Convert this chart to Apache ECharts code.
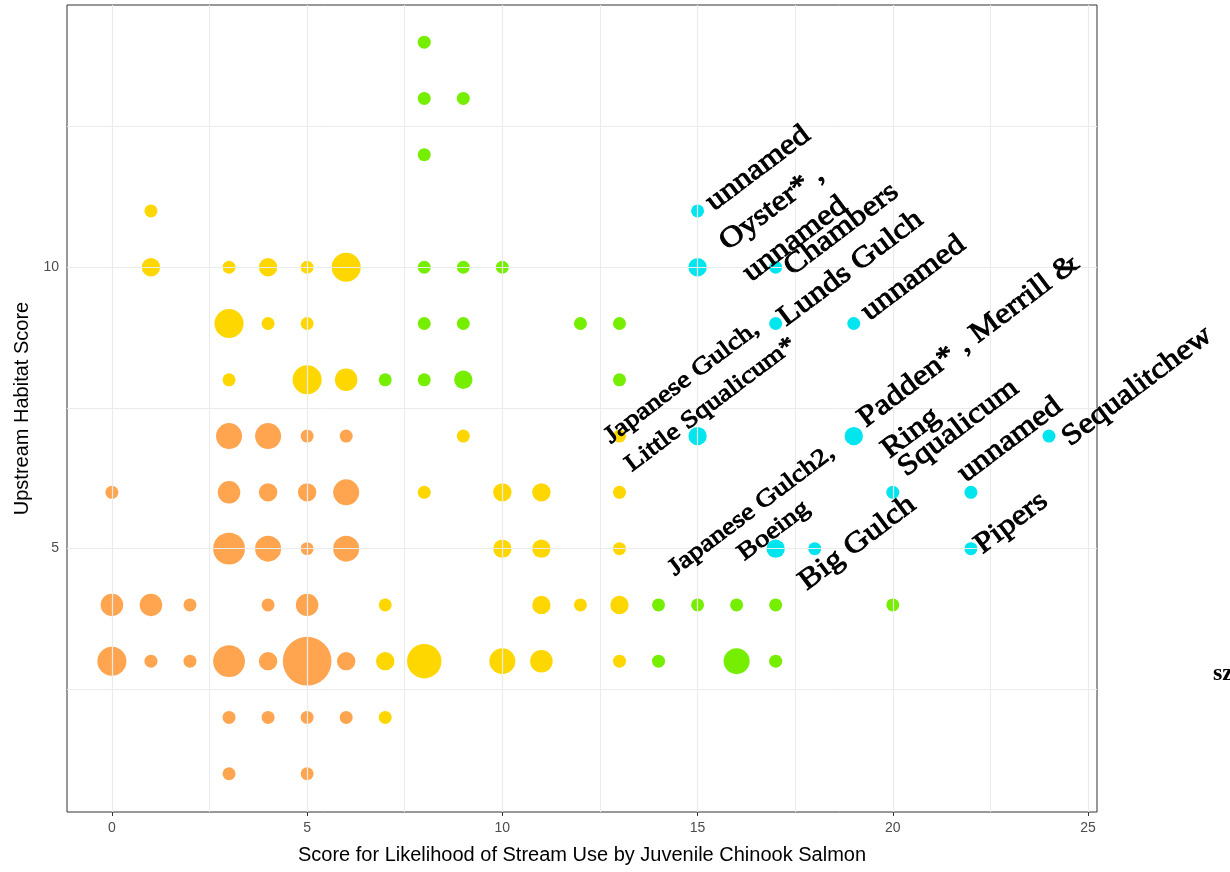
<!DOCTYPE html>
<html>
<head>
<meta charset="utf-8">
<title>Juvenile Chinook stream scores</title>
<script src="https://cdn.jsdelivr.net/npm/echarts@6/dist/echarts.min.js"></script>
<style>
  html, body { margin: 0; padding: 0; background: #ffffff; }
  #chart { width: 1230px; height: 872px; }
</style>
</head>
<body>
<div id="chart"></div>
<script>
// Streams scored on likelihood of use (x) and upstream habitat (y); n = streams sharing that score
const tierLow = [
  [0, 6, 1], [0, 4, 3], [0, 3, 5],
  [1, 4, 3], [1, 3, 1],
  [2, 4, 1], [2, 3, 1],
  [3, 7, 4], [3, 6, 3], [3, 5, 6], [3, 3, 6], [3, 2, 1], [3, 1, 1],
  [4, 7, 4], [4, 6, 2], [4, 5, 4], [4, 4, 1], [4, 3, 2], [4, 2, 1],
  [5, 7, 1], [5, 6, 2], [5, 5, 1], [5, 4, 3], [5, 3, 14], [5, 2, 1], [5, 1, 1],
  [6, 7, 1], [6, 6, 4], [6, 5, 4], [6, 3, 2], [6, 2, 1]
];
const tierMid = [
  [1, 11, 1], [1, 10, 2],
  [3, 10, 1], [3, 9, 5], [3, 8, 1],
  [4, 10, 2], [4, 9, 1],
  [5, 10, 1], [5, 9, 1], [5, 8, 5],
  [6, 10, 5], [6, 8, 3],
  [7, 4, 1], [7, 3, 2], [7, 2, 1],
  [8, 6, 1], [8, 3, 7],
  [9, 7, 1],
  [10, 6, 2], [10, 5, 2], [10, 3, 4],
  [11, 6, 2], [11, 5, 2], [11, 4, 2], [11, 3, 3],
  [12, 4, 1],
  [13, 7, 1], [13, 6, 1], [13, 5, 1], [13, 4, 2], [13, 3, 1]
];
const tierHigh = [
  [8, 14, 1], [8, 13, 1], [8, 12, 1], [8, 10, 1], [8, 9, 1], [8, 8, 1],
  [9, 13, 1], [9, 10, 1], [9, 9, 1], [9, 8, 2],
  [10, 10, 1],
  [7, 8, 1],
  [12, 9, 1],
  [13, 9, 1], [13, 8, 1],
  [14, 4, 1], [14, 3, 1],
  [15, 4, 1], [16, 4, 1], [16, 3, 4],
  [17, 4, 1], [17, 3, 1],
  [20, 4, 1]
];
const tierTop = [
  [15, 11, 1], [15, 10, 2], [15, 7, 2],
  [17, 10, 1], [17, 9, 1], [17, 5, 2],
  [18, 5, 1],
  [19, 9, 1], [19, 7, 2],
  [20, 6, 1],
  [22, 6, 1], [22, 5, 1],
  [24, 7, 1]
];

// Stream names, placed in data units at the left-middle of each text block
const siteNames = [
  [15.30, 11.10, 'unnamed'],
  [15.95, 10.12, 'Oyster* ,\nunnamed'],
  [17.30, 9.95, 'Chambers'],
  [17.15, 9.05, 'Lunds Gulch'],
  [19.28, 9.15, 'unnamed'],
  [19.50, 6.98, 'Padden* , Merrill &\nRing'],
  [20.22, 6.38, 'Squalicum'],
  [21.75, 6.28, 'unnamed'],
  [24.42, 6.92, 'Sequalitchew'],
  [22.18, 5.01, 'Pipers'],
  [17.68, 4.36, 'Big Gulch']
];
const siteNamesMinor = [
  [12.95, 6.70, 'Japanese Gulch,\nLittle Squalicum*'],
  [14.32, 4.60, 'Japanese Gulch2,'],
  [16.10, 4.87, 'Boeing']
];

const xTicks = [0, 5, 10, 15, 20, 25];
const xMinor = [2.5, 7.5, 12.5, 17.5, 22.5];
const yTicks = [5, 10];
const yMinor = [2.5, 7.5, 12.5];

const xTitle = 'Score for Likelihood of Stream Use by Juvenile Chinook Salmon';
const yTitle = 'Upstream Habitat Score';
const legendTitle = 'sz';

const palette = { low: '#FFA54F', mid: '#FFD700', high: '#76EE00', top: '#00E5EE' };
const LABEL_ANGLE = 37;
const LABEL_FAMILY = '"Liberation Serif", "Times New Roman", serif';

function bubble(v) { return 13 * Math.sqrt(v[2]); }

function pointSeries(name, data, color) {
  return {
    name: name, type: 'scatter', data: data,
    symbol: 'circle', symbolSize: bubble,
    itemStyle: { color: color, opacity: 1 },
    emphasis: { disabled: true }, silent: true, z: 3
  };
}

// Rotated name text; widened slightly along the baseline for a broad slab look
function nameSeries(list, fontSize, lineHeight, widen) {
  return {
    type: 'custom', silent: true, z: 5, clip: false,
    data: list.map(d => [d[0], d[1]]),
    encode: { x: 0, y: 1 },
    renderItem: function (params, api) {
      const p = api.coord([api.value(0), api.value(1)]);
      return {
        type: 'text', x: p[0], y: p[1],
        rotation: LABEL_ANGLE * Math.PI / 180,
        scaleX: widen, scaleY: 1,
        style: {
          text: list[params.dataIndex][2],
          fill: '#000000',
          stroke: '#000000', lineWidth: 0.9,
          fontFamily: LABEL_FAMILY,
          fontStyle: 'normal',
          fontWeight: 'normal',
          fontSize: fontSize,
          align: 'left', verticalAlign: 'middle',
          lineHeight: lineHeight
        }
      };
    }
  };
}

function gridLines(vals, axis, width) {
  return vals.map(v => ({ [axis]: v, lineStyle: { color: '#EBEBEB', width: width, type: 'solid' } }));
}

const chart = echarts.init(document.getElementById('chart'), null, { renderer: 'canvas' });
chart.setOption({
  animation: false,
  backgroundColor: '#ffffff',
  grid: { left: 67, top: 5, right: 133, bottom: 60, show: true, borderColor: '#333333', borderWidth: 1, backgroundColor: 'transparent' },
  xAxis: {
    type: 'value', min: -1.15, max: 25.23,
    splitLine: { show: false },
    axisLine: { show: false },
    axisTick: { show: true, length: 4, customValues: xTicks, lineStyle: { color: '#333333' } },
    axisLabel: { customValues: xTicks, color: '#4D4D4D', fontSize: 14, fontFamily: 'Liberation Sans, Arial', margin: 9 },
    name: xTitle, nameLocation: 'middle', nameGap: 33,
    nameTextStyle: { color: '#000000', fontSize: 20, fontFamily: 'Liberation Sans, Arial' }
  },
  yAxis: {
    type: 'value', min: 0.32, max: 14.66,
    splitLine: { show: false },
    axisLine: { show: false },
    axisTick: { show: true, length: 4, customValues: yTicks, lineStyle: { color: '#333333' } },
    axisLabel: { customValues: yTicks, color: '#4D4D4D', fontSize: 14, fontFamily: 'Liberation Sans, Arial', margin: 8 },
    name: yTitle, nameLocation: 'middle', nameGap: 34, nameRotate: 90,
    nameTextStyle: { color: '#000000', fontSize: 20, fontFamily: 'Liberation Sans, Arial' }
  },
  graphic: [{
    type: 'text', left: 1213, top: 662, silent: true,
    style: { text: legendTitle, fontFamily: LABEL_FAMILY, fontStyle: 'normal', fontWeight: 'bold', fontSize: 24, fill: '#000000' }
  }],
  series: [
    {
      type: 'scatter', data: [], silent: true, z: 1,
      markLine: {
        silent: true, symbol: 'none', label: { show: false }, animation: false,
        data: [].concat(
          gridLines(xMinor, 'xAxis', 1), gridLines(yMinor, 'yAxis', 1),
          gridLines(xTicks, 'xAxis', 1.2), gridLines(yTicks, 'yAxis', 1.2)
        )
      }
    },
    pointSeries('low', tierLow, palette.low),
    pointSeries('mid', tierMid, palette.mid),
    pointSeries('high', tierHigh, palette.high),
    pointSeries('top', tierTop, palette.top),
    nameSeries(siteNames, 29, 39, 1.15),
    nameSeries(siteNamesMinor, 24, 35, 1.2)
  ]
});
</script>
</body>
</html>
